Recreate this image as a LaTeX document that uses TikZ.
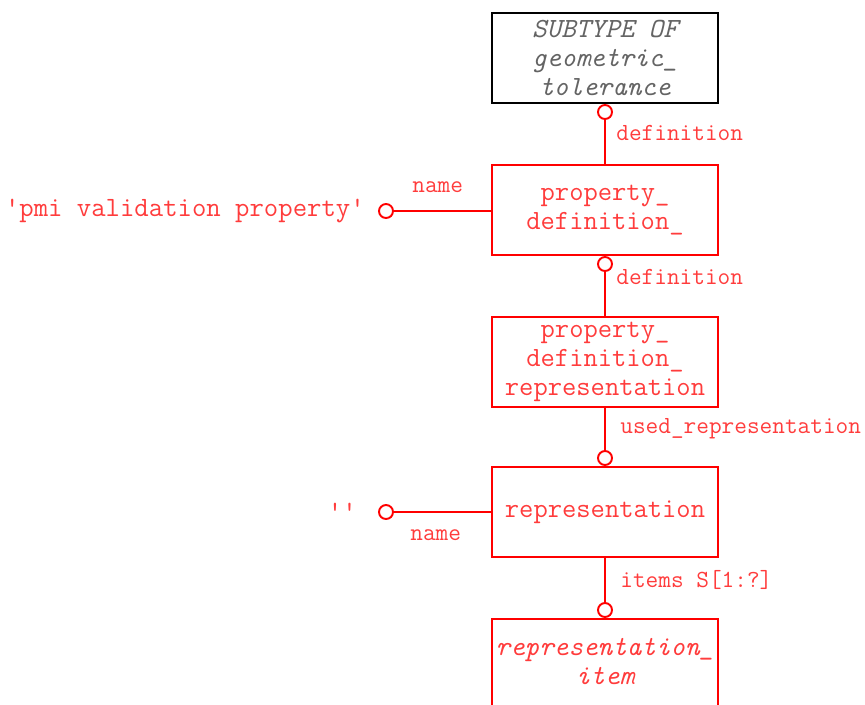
\documentclass[tikz,border=0pt]{standalone}
\usepackage{fontspec}
\usetikzlibrary{positioning}
\definecolor{exRed}{RGB}{255,0,0}
\definecolor{exText}{RGB}{255,60,60}
\definecolor{exGray}{RGB}{100,100,100}

\begin{document}
\begin{tikzpicture}[x=0.02cm, y=-0.02cm,
  ent/.style={draw=exRed, line width=1.1pt, minimum width=4.52cm, minimum height=1.8cm, inner sep=0pt,
    align=center, text=exText, font=\ttfamily\fontsize{15.8}{16.4}\selectfont},
  circ/.style={circle, draw=exRed, line width=1.1pt, minimum size=0.28cm, inner sep=0pt, fill=white},
  lbl/.style={text=exText, inner sep=0pt, font=\ttfamily\fontsize{14}{14}\selectfont},
  val/.style={text=exText, inner sep=0pt, font=\ttfamily\fontsize{15.9}{16}\selectfont},
  link/.style={draw=exRed, line width=1.1pt}]
\clip (0,0) rectangle (865,704);
% entity boxes
\node[ent, draw=black, text=exGray, font=\ttfamily\itshape\fontsize{15.8}{16.4}\selectfont] (geo) at (605,58) {SUBTYPE OF\\geometric\_\\tolerance};
\node[ent] (pd) at (605,210) {property\_\\definition\_};
\node[ent] (pdr) at (605,362) {property\_\\definition\_\\representation};
\node[ent] (rep) at (605,512) {representation};
\node[ent, font=\ttfamily\itshape\fontsize{15.8}{16.4}\selectfont, anchor=north] (item) at (605,618) {\strut representation\_\\item\strut};
% relation ends
\node[circ] (cDef1) at (605,112) {};
\node[circ] (cDef2) at (605,264) {};
\node[circ] (cUsed) at (605,458) {};
\node[circ] (cItems) at (605,610) {};
\node[circ] (cName1) at (386,211) {};
\node[circ] (cName2) at (386,512) {};
% connectors
\draw[link] (cDef1) -- (pd.north);
\draw[link] (cDef2) -- (pdr.north);
\draw[link] (pdr.south) -- (cUsed);
\draw[link] (rep.south) -- (cItems);
\draw[link] (cName1) -- (pd.west |- cName1);
\draw[link] (cName2) -- (rep.west |- cName2);
% labels
\node[lbl, anchor=west] (lDef1) at (616,133) {definition};
\node[lbl, anchor=west] (lDef2) at (616,277) {definition};
\node[lbl, anchor=west] (lUsed) at (620,429) {used\_representation};
\node[lbl, anchor=west] (lItems) at (620,580) {items S[1:?]};
\node[lbl, anchor=west] (lName1) at (412,187) {name};
\node[lbl, anchor=west] (lName2) at (410,535) {name};
\node[val, left=0.26cm of cName1] (vPmi) {'pmi validation property'};
\node[val, left=0.42cm of cName2] (vEmpty) {''};
\end{tikzpicture}
\end{document}
